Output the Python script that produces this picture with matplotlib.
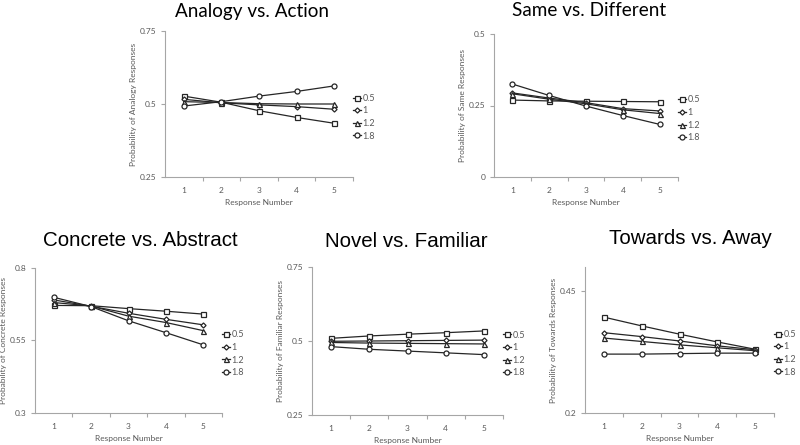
import matplotlib.pyplot as plt
from matplotlib.ticker import FixedLocator

# Response numbers and the four parameter values
responses = [1, 2, 3, 4, 5]
params = ["0.5", "1", "1.2", "1.8"]
markers = ["s", "D", "^", "o"]
msizes = [3.6, 2.6, 3.6, 3.6]

# Analogy vs. Action
analogy_05 = [0.527, 0.506, 0.477, 0.454, 0.434]
analogy_1 = [0.516, 0.504, 0.497, 0.491, 0.482]
analogy_12 = [0.508, 0.505, 0.501, 0.500, 0.500]
analogy_18 = [0.493, 0.508, 0.527, 0.543, 0.562]

# Same vs. Different
same_05 = [0.269, 0.266, 0.265, 0.264, 0.263]
same_1 = [0.294, 0.276, 0.260, 0.239, 0.231]
same_12 = [0.291, 0.272, 0.256, 0.235, 0.222]
same_18 = [0.325, 0.285, 0.248, 0.215, 0.184]

# Concrete vs. Abstract
concrete_05 = [0.671, 0.670, 0.660, 0.651, 0.641]
concrete_1 = [0.690, 0.668, 0.644, 0.623, 0.604]
concrete_12 = [0.681, 0.669, 0.634, 0.612, 0.584]
concrete_18 = [0.699, 0.667, 0.618, 0.577, 0.535]

# Novel vs. Familiar
novel_05 = [0.509, 0.517, 0.523, 0.528, 0.534]
novel_1 = [0.499, 0.500, 0.501, 0.502, 0.503]
novel_12 = [0.495, 0.493, 0.492, 0.491, 0.490]
novel_18 = [0.481, 0.472, 0.466, 0.460, 0.454]

# Towards vs. Away
towards_05 = [0.397, 0.379, 0.362, 0.346, 0.331]
towards_1 = [0.365, 0.357, 0.348, 0.338, 0.330]
towards_12 = [0.354, 0.347, 0.340, 0.334, 0.328]
towards_18 = [0.321, 0.321, 0.322, 0.323, 0.323]

panels = [
    # title, ylabel, series, ylim, yticks, axes rect (fig px: left, top, right, bottom), title pos, title font, size
    ("Analogy vs. Action", "Probability of Analogy Responses",
     [analogy_05, analogy_1, analogy_12, analogy_18], (0.25, 0.75), [0.25, 0.5, 0.75],
     (165, 31, 353, 177), (252, 12), "Lato", 13.6),
    ("Same vs. Different", "Probability of Same Responses",
     [same_05, same_1, same_12, same_18], (0, 0.5), [0, 0.25, 0.5],
     (494, 34, 678, 177), (589, 10), "Lato", 13.6),
    ("Concrete vs. Abstract", "Probability of Concrete Responses",
     [concrete_05, concrete_1, concrete_12, concrete_18], (0.3, 0.8), [0.3, 0.55, 0.8],
     (35, 268, 222, 413), (140, 240), "Liberation Sans", 14.8),
    ("Novel vs. Familiar", "Probability of Familiar Responses",
     [novel_05, novel_1, novel_12, novel_18], (0.25, 0.75), [0.25, 0.5, 0.75],
     (312, 267, 503, 415), (406, 242), "Liberation Sans", 14.8),
    ("Towards vs. Away", "Probability of Towards Responses",
     [towards_05, towards_1, towards_12, towards_18], (0.2, 0.5), [0.2, 0.45],
     (585, 267, 774, 413), (690, 238), "Liberation Sans", 14.8),
]

W, H = 800, 445
fig = plt.figure(figsize=(W / 100, H / 100), dpi=100)
axis_grey = "#a6a6a6"
text_grey = "#595959"
fs = 6

for title, ylabel, series, ylim, yticks, rect, tpos, tfont, tsize in panels:
    l, t, r, b = rect
    ax = fig.add_axes([l / W, 1 - b / H, (r - l) / W, (b - t) / H])
    for vals, lab, m, ms in zip(series, params, markers, msizes):
        ax.plot(responses, vals, color="#262626", lw=0.9, marker=m, ms=ms,
                mfc="white", mec="#262626", mew=0.9, label=lab)
    ax.set_xlim(0.5, 5.5)
    ax.set_ylim(*ylim)
    ax.set_yticks(yticks)
    ax.set_yticklabels([f"{v:g}" for v in yticks])
    ax.set_xticks(responses)
    ax.xaxis.set_minor_locator(FixedLocator([1.5, 2.5, 3.5, 4.5, 5.5]))
    ax.tick_params(axis="x", which="major", length=0, pad=7, labelsize=fs,
                   labelcolor=text_grey)
    ax.tick_params(axis="x", which="minor", length=3, color=axis_grey, width=0.8)
    ax.tick_params(axis="y", length=3, color=axis_grey, width=0.8, pad=3,
                   labelsize=fs, labelcolor=text_grey)
    for lbl in ax.get_xticklabels() + ax.get_yticklabels():
        lbl.set_family("Lato")
    for s in ["top", "right"]:
        ax.spines[s].set_visible(False)
    for s in ["left", "bottom"]:
        ax.spines[s].set_color(axis_grey)
        ax.spines[s].set_linewidth(0.8)
    ax.set_xlabel("Response Number", fontsize=fs, color=text_grey,
                  family="Lato", labelpad=4)
    ax.set_ylabel(ylabel, fontsize=fs, color=text_grey, family="Lato", labelpad=2)
    leg = ax.legend(loc="upper left", bbox_to_anchor=(1.0, 0.57), frameon=False,
                    borderaxespad=0, borderpad=0, handlelength=0.9,
                    handletextpad=0.15, labelspacing=0.4,
                    prop={"family": "Lato", "size": fs + 0.5})
    for txt in leg.get_texts():
        txt.set_color(text_grey)
    fig.text(tpos[0] / W, 1 - tpos[1] / H, title, ha="center", va="center",
             fontsize=tsize, family=tfont, color="black")

fig.savefig("out.png", dpi=100)
